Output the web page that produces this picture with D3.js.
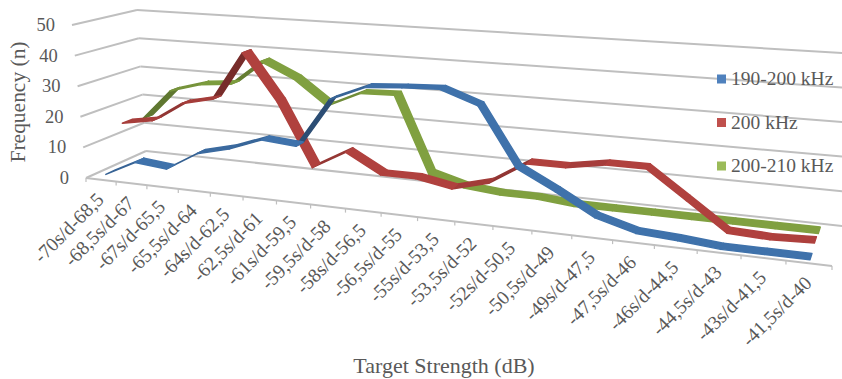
<!DOCTYPE html>
<html>
<head>
<meta charset="utf-8">
<script src="https://cdn.jsdelivr.net/npm/d3@7/dist/d3.min.js"></script>
<style>
html,body{margin:0;padding:0;background:#fff;overflow:hidden}
text{font-family:"Liberation Serif",serif;fill:#595959}
</style>
</head>
<body>
<svg id="chart" width="842" height="379"></svg>
<script>
// Target-strength bins along the category axis
const categories = ["-70s/d-68,5","-68,5s/d-67","-67s/d-65,5","-65,5s/d-64","-64s/d-62,5","-62,5s/d-61","-61s/d-59,5","-59,5s/d-58","-58s/d-56,5","-56,5s/d-55","-55s/d-53,5","-53,5s/d-52","-52s/d-50,5","-50,5s/d-49","-49s/d-47,5","-47,5s/d-46","-46s/d-44,5","-44,5s/d-43","-43s/d-41,5","-41,5s/d-40"];
const valueTicks = [0,10,20,30,40,50];
const seriesNames = ["190-200 kHz","200 kHz","200-210 kHz"];
const band190 = [1,6,5,11,13.6,17.5,16.6,32,36.7,37.5,38,34,16.7,11,4.8,1.7,1,0,0,0];
const band200 = [15.2,17,23.6,26,42,27,7,13,7,7,5,8,15,15,17,17,9,1,0.5,1];
const band210 = [14,24.5,27.5,28.5,37,32,24,29,29.4,5,2,1,1,0,0,0,0,0,0,0];
const seriesValues = [band190, band200, band210];
const legendColors = ["#4f81bd","#c0504d","#9bbb59"];
const ribbonColors = ["#3f72ab","#b0413e","#80a040"];

// Corners of the 3-D plot box: [front/back][left/right][floor/top]
const box = {
  fl0:[86,178], fr0:[832,266], bl0:[146,151], br0:[843,226],
  fl1:[72,25],  fr1:[848,80],  bl1:[137,10],  br1:[858,54]
};
const lerp = (a,b,t)=>[a[0]+(b[0]-a[0])*t, a[1]+(b[1]-a[1])*t];

const xScale = d3.scaleLinear().domain([0,categories.length]).range([0,1]);
const yScale = d3.scaleLinear().domain([0,50]).range([0,1]);
const zScale = d3.scaleLinear().domain([0,seriesNames.length]).range([0,1]);
// Foreshortening along the long axis
const warp = u => u/(u+1.25*(1-u));

function project(xv,yv,zv){
  const u=warp(xScale(xv)), v=yScale(yv), w=zScale(zv);
  const f0=lerp(box.fl0,box.fr0,u), b0=lerp(box.bl0,box.br0,u);
  const f1=lerp(box.fl1,box.fr1,u), b1=lerp(box.bl1,box.br1,u);
  return lerp(lerp(f0,b0,w),lerp(f1,b1,w),v);
}

const svg=d3.select("#chart");
const line=d3.line();
const gridG=svg.append("g").attr("fill","none").attr("stroke","#bfbfbf").attr("stroke-width",2);
const n=categories.length;

// Back wall and left wall gridlines
valueTicks.forEach(t=>{
  gridG.append("path").attr("d",line([project(0,t,3),project(n,t,3)]));
  gridG.append("path").attr("d",line([project(0,t,0),project(0,t,3)]));
});
// Front floor edge and its tick marks
gridG.append("path").attr("d",line([project(0,0,0),project(n,0,0)]));
d3.range(n+1).forEach(i=>{
  const p=project(i,0,0);
  gridG.append("path").attr("stroke-width",1.2).attr("d",line([p,[p[0],p[1]+4]]));
});

// Ribbons, furthest series first
const ribbonHalf=0.24;
d3.range(2,-1,-1).forEach(s=>{
  const vals=seriesValues[s], g=svg.append("g");
  const z=s+0.5;
  const cs=[];
  d3.range(n-1).forEach(i=>{
    const dv=vals[i+1]-vals[i];
    const k=Math.max(0,Math.min(1,dv/14));
    const c=d3.color(ribbonColors[s]).darker(k*1.1).formatHex();
    cs.push({i,c,dv});
  });
  // Descending pieces are painted over rising ones so the near faces read on top
  cs.sort((a,b)=>b.dv-a.dv).forEach(({i,c})=>{
    const a=vals[i],b=vals[i+1],x0=i+0.5,x1=i+1.5;
    const poly=[project(x0,a,z-ribbonHalf),project(x1,b,z-ribbonHalf),project(x1,b,z+ribbonHalf),project(x0,a,z+ribbonHalf)];
    g.append("path").attr("d",line(poly)+"Z").attr("fill",c).attr("stroke",c).attr("stroke-width",1.5).attr("stroke-linejoin","round");
  });
});

// Value labels
valueTicks.forEach(t=>{
  const p=project(0,t,0);
  svg.append("text").attr("x",p[0]-17).attr("y",p[1]+6).attr("text-anchor","end").attr("font-size",18.5).text(t);
});
// Category labels
categories.forEach((c,i)=>{
  const p=project(i+0.5,0,0);
  svg.append("text").attr("text-anchor","end").attr("font-size",19.5)
    .attr("transform",`translate(${p[0]+4},${p[1]+21}) rotate(-45)`).text(c);
});
// Axis titles
svg.append("text").attr("text-anchor","middle").attr("font-size",20)
  .attr("textLength",121).attr("lengthAdjust","spacingAndGlyphs")
  .attr("transform","translate(25,102) rotate(-90)").text("Frequency (n)");
svg.append("text").attr("text-anchor","middle").attr("font-size",22)
  .attr("x",444).attr("y",373).text("Target Strength (dB)");

// Legend
const legendY=d3.scalePoint().domain(seriesNames).range([79,166]);
seriesNames.forEach((name,i)=>{
  svg.append("rect").attr("x",717).attr("y",legendY(name)-4.5).attr("width",9).attr("height",9).attr("fill",legendColors[i]);
  svg.append("text").attr("x",731).attr("y",legendY(name)+6).attr("font-size",19.5).text(name);
});
</script>
</body>
</html>
